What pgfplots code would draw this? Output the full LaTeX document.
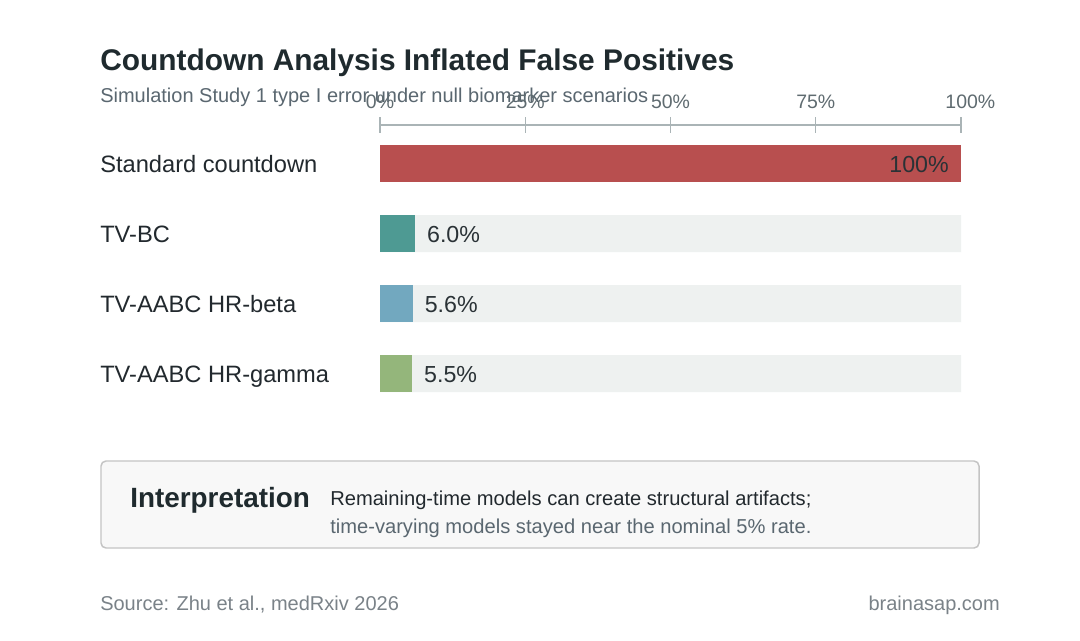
\documentclass[border=0pt]{standalone}
\usepackage{fontspec}
\setmainfont{Liberation Sans}
\usepackage{pgfplots}
\pgfplotsset{compat=1.18}

\definecolor{titlec}{HTML}{1F2A2E}
\definecolor{subc}{HTML}{5A6770}
\definecolor{tickc}{HTML}{5F6B70}
\definecolor{axisc}{HTML}{AAB4B6}
\definecolor{labc}{HTML}{22292E}
\definecolor{valc}{HTML}{2A3236}
\definecolor{trackc}{HTML}{EEF1F0}
\definecolor{redc}{HTML}{B84F4F}
\definecolor{tealc}{HTML}{4E9A93}
\definecolor{bluec}{HTML}{72A8BF}
\definecolor{greenc}{HTML}{94B67B}
\definecolor{boxfill}{HTML}{F8F8F8}
\definecolor{boxline}{HTML}{C4C4C4}
\definecolor{footc}{HTML}{7A8288}

\begin{document}
\begin{tikzpicture}[x=0.75pt,y=-0.75pt]
% canvas
\fill[white] (0,0) rectangle (1080,640);

% heading
\node[anchor=base west, inner sep=0, text=titlec,
      font=\fontsize{22.4pt}{26pt}\selectfont\bfseries] at (100,70)
      {Countdown Analysis Inflated False Positives};
\node[anchor=base west, inner sep=0, text=subc,
      font=\fontsize{15pt}{18pt}\selectfont] at (100,102)
      {Simulation Study 1 type I error under null biomarker scenarios};

\begin{axis}[
  at={(285pt,-93.75pt)}, anchor=north west,
  scale only axis, width=435.75pt, height=212.625pt,
  xmin=0, xmax=100, ymin=-0.5, ymax=3.55,
  axis x line*=top, axis y line*=left,
  x axis line style={draw=axisc, line width=1.1pt, -},
  y axis line style={draw=none},
  xtick={0,25,50,75,100},
  xticklabels={0\%,25\%,50\%,75\%,\hspace*{14pt}100\%},
  xtick align=center,
  major tick length=12pt,
  x tick style={draw=axisc, line width=1.1pt},
  y tick style={draw=none},
  xticklabel style={anchor=base, inner sep=0pt, yshift=6.75pt, text=tickc,
                    font=\fontsize{14.6pt}{17pt}\selectfont},
  ytick={0,1,2,3},
  yticklabels={TV-AABC HR-gamma, TV-AABC HR-beta, TV-BC, Standard countdown},
  yticklabel style={anchor=base west, inner sep=0pt, xshift=-210pt, yshift=-6.75pt,
                    text=labc, font=\fontsize{17.75pt}{20pt}\selectfont},
  /pgf/number format/assume math mode=true,
  clip=false,
]
% full-scale tracks behind the short bars
\addplot[xbar, bar width=27.75pt, bar shift=0pt, fill=trackc, draw=none]
  coordinates {(100,0) (100,1) (100,2)};

% Standard countdown
\addplot[xbar, bar width=27.75pt, bar shift=0pt, fill=redc, draw=none,
  point meta=x,
  nodes near coords={\pgfmathprintnumber[fixed,precision=0]{\pgfplotspointmeta}\%},
  every node near coord/.append style={anchor=base east, inner sep=0pt,
    xshift=-9pt, yshift=-6.75pt, text=valc, font=\fontsize{17.4pt}{20pt}\selectfont}]
  coordinates {(100,3)};

% TV-BC
\addplot[xbar, bar width=27.75pt, bar shift=0pt, fill=tealc, draw=none,
  point meta=x,
  nodes near coords={\pgfmathprintnumber[fixed,fixed zerofill,precision=1]{\pgfplotspointmeta}\%},
  every node near coord/.append style={anchor=base west, inner sep=0pt,
    xshift=9pt, yshift=-6.75pt, text=valc, font=\fontsize{17.4pt}{20pt}\selectfont}]
  coordinates {(6.0,2)};

% TV-AABC HR-beta
\addplot[xbar, bar width=27.75pt, bar shift=0pt, fill=bluec, draw=none,
  point meta=x,
  nodes near coords={\pgfmathprintnumber[fixed,fixed zerofill,precision=1]{\pgfplotspointmeta}\%},
  every node near coord/.append style={anchor=base west, inner sep=0pt,
    xshift=9pt, yshift=-6.75pt, text=valc, font=\fontsize{17.4pt}{20pt}\selectfont}]
  coordinates {(5.6,1)};

% TV-AABC HR-gamma
\addplot[xbar, bar width=27.75pt, bar shift=0pt, fill=greenc, draw=none,
  point meta=x,
  nodes near coords={\pgfmathprintnumber[fixed,fixed zerofill,precision=1]{\pgfplotspointmeta}\%},
  every node near coord/.append style={anchor=base west, inner sep=0pt,
    xshift=9pt, yshift=-6.75pt, text=valc, font=\fontsize{17.4pt}{20pt}\selectfont}]
  coordinates {(5.5,0)};
\end{axis}

% interpretation box
\draw[draw=boxline, fill=boxfill, line width=1.1pt, rounded corners=3.75pt]
  (101,461) rectangle (979,548);
\node[anchor=base west, inner sep=0, text=titlec,
      font=\fontsize{20.9pt}{24pt}\selectfont\bfseries] at (130,507) {Interpretation};
\node[anchor=base west, inner sep=0, text=labc,
      font=\fontsize{15.1pt}{18pt}\selectfont] at (330,505)
      {Remaining-time models can create structural artifacts;};
\node[anchor=base west, inner sep=0, text=subc,
      font=\fontsize{15.1pt}{18pt}\selectfont] at (330,533)
      {time-varying models stayed near the nominal 5\% rate.};

% footer
\node[anchor=base west, inner sep=0, text=footc,
      font=\fontsize{15pt}{18pt}\selectfont] at (100,610)
      {Source: Zhu et al., medRxiv 2026};
\node[anchor=base east, inner sep=0, text=footc,
      font=\fontsize{15pt}{18pt}\selectfont] at (1000,610)
      {brainasap.com};
\end{tikzpicture}
\end{document}
